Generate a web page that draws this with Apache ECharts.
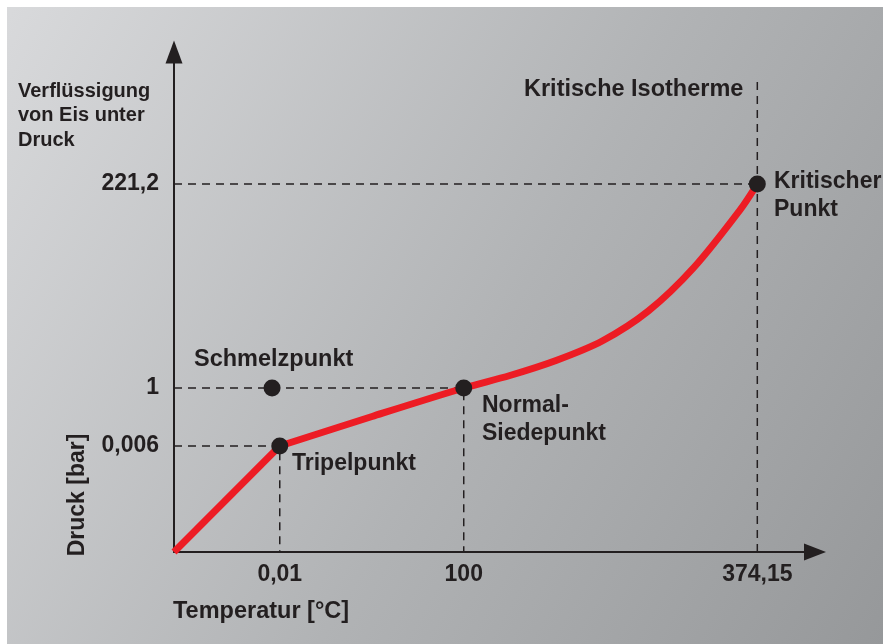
<!DOCTYPE html>
<html>
<head>
<meta charset="utf-8">
<script src="https://cdn.jsdelivr.net/npm/echarts@6/dist/echarts.min.js"></script>
<style>
html, body { margin: 0; padding: 0; background: #fff; }
#main {
  width: 883px; height: 644px;
  background:
    linear-gradient(#fff, #fff) top left / 100% 7px no-repeat,
    linear-gradient(#fff, #fff) top left / 7px 100% no-repeat,
    linear-gradient(120deg, #d9dadc 0%, #b1b3b5 55%, #96989a 100%);
}
</style>
</head>
<body>
<div id="main"></div>
<script>
// schematische Achsen (0..100), nicht maßstabsgetreu
var xTickPos = [16.5, 45.2, 91.0];
var xTickLabels = ['0,01', '100', '374,15'];
var yTickPos = [21.2, 32.8, 73.6];
var yTickLabels = ['0,006', '1', '221,2'];

// Sublimationskurve: Ursprung -> Tripelpunkt
var sublimX = [0, 16.5];
var sublimY = [0, 21.2];
// Dampfdruckkurve: Tripelpunkt -> Siedepunkt -> kritischer Punkt
var vaporX = [16.5, 30.9, 45.2, 52.4, 59.6, 66.8, 74.0, 81.1, 88.3, 91.0];
var vaporY = [21.2, 27.1, 32.8, 35.3, 38.3, 42.2, 48.2, 56.9, 68.4, 73.6];

// Punkte: Tripelpunkt, Schmelzpunkt, Siedepunkt, kritischer Punkt
var pointX = [16.5, 15.3, 45.2, 91.0];
var pointY = [21.2, 32.8, 32.8, 73.6];
var isothermTop = 94;

var ink = '#231f20';
var fontFam = '"Liberation Sans", Arial, sans-serif';

function pairs(xs, ys) {
    return xs.map(function (x, i) { return [x, ys[i]]; });
}

var chartDom = document.getElementById('main');
var myChart = echarts.init(chartDom);

function dashed(data) {
    return {
        type: 'line',
        data: data,
        symbol: 'none',
        silent: true,
        z: 1,
        lineStyle: { color: ink, width: 1.5, type: [8, 6] }
    };
}

function label(text, x, y, size, lh, va, rot) {
    return {
        type: 'text',
        x: x,
        y: y,
        rotation: rot || 0,
        style: {
            text: text,
            fill: ink,
            font: 'bold ' + size + 'px ' + fontFam,
            lineHeight: lh,
            align: rot ? 'center' : 'left',
            verticalAlign: va,
            textAlign: rot ? 'center' : 'left',
            textVerticalAlign: va
        }
    };
}

var option = {
    animation: false,
    backgroundColor: 'transparent',
    grid: { left: 174, right: 68, top: 52, bottom: 92 },
    xAxis: {
        type: 'value',
        min: 0,
        max: 100,
        splitLine: { show: false },
        axisTick: { show: false },
        axisLine: {
            lineStyle: { color: ink, width: 2 },
            symbol: ['none', 'triangle'],
            symbolSize: [17, 22]
        },
        axisLabel: {
            customValues: xTickPos,
            formatter: function (v) { return xTickLabels[xTickPos.indexOf(v)]; },
            color: ink,
            fontSize: 23,
            fontWeight: 'bold',
            fontFamily: fontFam,
            margin: 11
        }
    },
    yAxis: {
        type: 'value',
        min: 0,
        max: 100,
        splitLine: { show: false },
        axisTick: { show: false },
        axisLine: {
            lineStyle: { color: ink, width: 2 },
            symbol: ['none', 'triangle'],
            symbolSize: [17, 23]
        },
        axisLabel: {
            customValues: yTickPos,
            formatter: function (v) { return yTickLabels[yTickPos.indexOf(v)]; },
            color: ink,
            fontSize: 23,
            fontWeight: 'bold',
            fontFamily: fontFam,
            margin: 15
        }
    },
    series: [
        dashed([[0, yTickPos[0]], [xTickPos[0], yTickPos[0]], [xTickPos[0], 0]]),
        dashed([[0, yTickPos[1]], [xTickPos[1], yTickPos[1]], [xTickPos[1], 0]]),
        dashed([[0, yTickPos[2]], [xTickPos[2], yTickPos[2]]]),
        dashed([[xTickPos[2], isothermTop], [xTickPos[2], 0]]),
        {
            type: 'line',
            data: pairs(sublimX, sublimY),
            symbol: 'none',
            z: 3,
            lineStyle: { color: '#ed1c24', width: 7, cap: 'butt' }
        },
        {
            type: 'line',
            data: pairs(vaporX, vaporY),
            symbol: 'none',
            smooth: 0.3,
            z: 3,
            lineStyle: { color: '#ed1c24', width: 7 }
        },
        {
            type: 'scatter',
            data: pairs(pointX, pointY),
            symbolSize: 17,
            z: 5,
            itemStyle: { color: ink, opacity: 1 }
        }
    ],
    graphic: [
        label('Verflüssigung\nvon Eis unter\nDruck', 18, 79, 20, 24.5, 'top'),
        label('Kritische Isotherme', 524, 90, 23.5, 26, 'middle'),
        label('Kritischer\nPunkt', 774, 167, 23, 28.5, 'top'),
        label('Schmelzpunkt', 194, 360, 23.5, 26, 'middle'),
        label('Tripelpunkt', 292, 464, 23, 26, 'middle'),
        label('Normal-\nSiedepunkt', 482, 391, 23, 28.7, 'top'),
        label('Temperatur [°C]', 173, 612, 23.5, 26, 'middle'),
        label('Druck [bar]', 78, 495, 23, 26, 'middle', Math.PI / 2)
    ]
};

option && myChart.setOption(option);
</script>
</body>
</html>
